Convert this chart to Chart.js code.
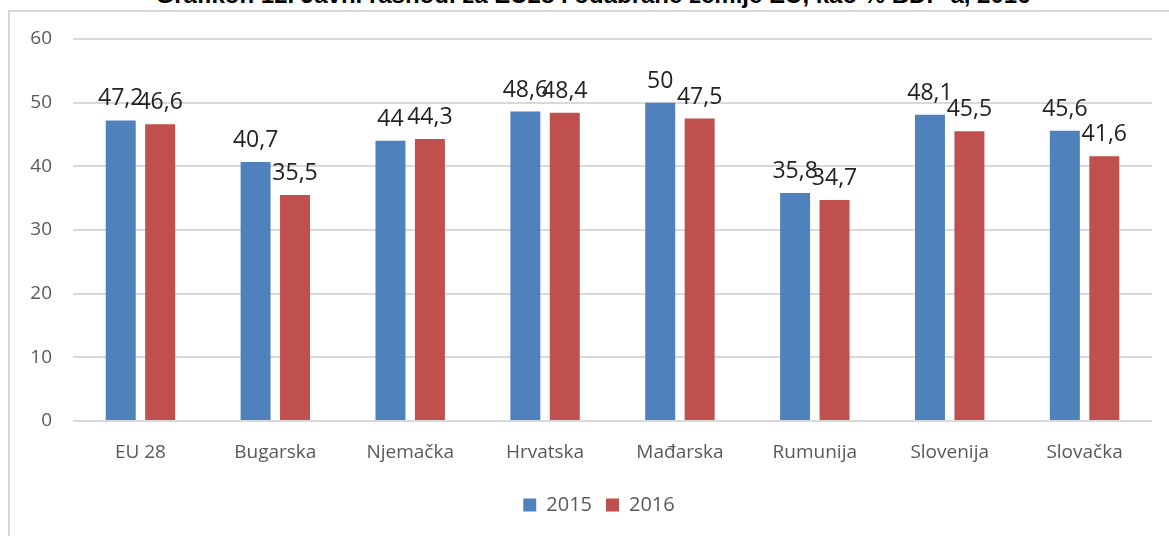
<!DOCTYPE html>
<html>
<head>
<meta charset="utf-8">
<script src="https://cdn.jsdelivr.net/npm/chart.js@4"></script>
<style>
  html, body { margin: 0; padding: 0; background: #fff; overflow: hidden; }
  #wrap { position: relative; width: 1169px; height: 536px; }
  #frame { position: absolute; left: 8px; top: 10px; width: 1200px; height: 600px;
           border-left: 2px solid #d9d9d9; border-top: 2px solid #d9d9d9; }
  #title { position: absolute; left: 0; width: 1186px; top: -17px; text-align: center;
           font: bold 24px "Liberation Sans", Arial, sans-serif; line-height: 1; color: #000;
           white-space: nowrap; }
  canvas { position: absolute; left: 0; top: 0; }
</style>
</head>
<body>
<div id="wrap">
  <div id="frame"></div>
  <div id="title">Grafikon 12. Javni rashodi za EU28 i odabrane zemlje EU, kao % BDP-a, 2016</div>
  <canvas id="myChart" width="1169" height="536"></canvas>
</div>
<script>
var categories = ['EU 28', 'Bugarska', 'Njemačka', 'Hrvatska', 'Mađarska', 'Rumunija', 'Slovenija', 'Slovačka'];
var seriesNames = ['2015', '2016'];
var values2015 = [47.2, 40.7, 44, 48.6, 50, 35.8, 48.1, 45.6];
var values2016 = [46.6, 35.5, 44.3, 48.4, 47.5, 34.7, 45.5, 41.6];
var yTicks = [0, 10, 20, 30, 40, 50, 60];

var fontName = '"Open Sans", "Noto Sans", sans-serif';

// value labels above bars, decimal comma like the original
var barLabels = {
    id: 'barLabels',
    afterDatasetsDraw: function (chart) {
        var ctx = chart.ctx;
        ctx.save();
        ctx.font = '23px ' + fontName;
        ctx.fillStyle = '#222';
        ctx.textAlign = 'center';
        ctx.textBaseline = 'alphabetic';
        chart.data.datasets.forEach(function (ds, i) {
            chart.getDatasetMeta(i).data.forEach(function (bar, j) {
                var txt = String(ds.data[j]).replace('.', ',');
                ctx.fillText(txt, bar.x, bar.y - 15);
            });
        });
        ctx.restore();
    }
};

// nudge the legend a bit right, it sits under the plot in the original
var legendShift = {
    id: 'legendShift',
    afterLayout: function (chart) {
        if (chart.legend) {
            chart.legend.left += 23;
            chart.legend.right += 23;
        }
    }
};

var ctx = document.getElementById('myChart').getContext('2d');
var myChart = new Chart(ctx, {
    type: 'bar',
    data: {
        labels: categories,
        datasets: [{
            label: seriesNames[0],
            data: values2015,
            backgroundColor: '#4f81bd',
            categoryPercentage: 0.585,
            barPercentage: 0.76
        }, {
            label: seriesNames[1],
            data: values2016,
            backgroundColor: '#c0504d',
            categoryPercentage: 0.585,
            barPercentage: 0.76
        }]
    },
    options: {
        responsive: false,
        animation: false,
        layout: { padding: { top: 39, left: 0, right: 17, bottom: 11 } },
        plugins: {
            title: { display: false },
            tooltip: { enabled: false },
            legend: {
                position: 'bottom',
                labels: {
                    boxWidth: 13,
                    boxHeight: 13,
                    padding: 14,
                    color: '#595959',
                    font: { family: fontName, size: 20 }
                }
            }
        },
        scales: {
            x: {
                grid: { display: false, drawTicks: false },
                border: { display: false },
                ticks: { color: '#595959', padding: 20, font: { family: fontName, size: 19 } },
                afterFit: function (scale) { scale.height = 60; }
            },
            y: {
                min: 0,
                max: 60,
                afterBuildTicks: function (scale) {
                    scale.ticks = yTicks.map(function (v) { return { value: v }; });
                },
                grid: { color: '#d9d9d9', lineWidth: 2, drawTicks: false },
                border: { display: false },
                ticks: { color: '#595959', padding: 21, font: { family: fontName, size: 19 } },
                afterFit: function (scale) { scale.width = 73; }
            }
        }
    },
    plugins: [barLabels, legendShift]
});
</script>
</body>
</html>
